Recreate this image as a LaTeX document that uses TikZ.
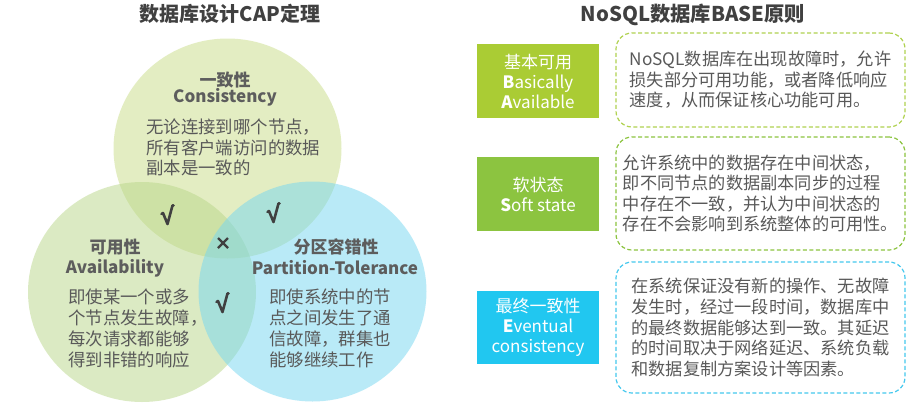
\documentclass[tikz,border=0pt]{standalone}
\usepackage{fontspec}
\setmainfont{Noto Sans CJK SC}
\newfontfamily\symfont{DejaVu Sans}
\usetikzlibrary{shapes.geometric}
\definecolor{ctop}{RGB}{201,221,135}
\definecolor{cleft}{RGB}{185,215,137}
\definecolor{cright}{RGB}{117,215,241}
\definecolor{headc}{RGB}{64,64,64}
\definecolor{bodyc}{RGB}{89,89,89}
\definecolor{boxa}{RGB}{170,204,52}
\definecolor{boxb}{RGB}{140,196,64}
\definecolor{boxc}{RGB}{33,199,240}
\definecolor{dasha}{RGB}{176,210,80}
\definecolor{dashb}{RGB}{140,196,64}
\definecolor{dashc}{RGB}{69,200,238}
\begin{document}
\begin{tikzpicture}[x=1pt,y=-1pt,
  venn/.style={ellipse, minimum width=228pt, minimum height=220pt, inner sep=0pt, draw=none, fill opacity=0.5},
  maintitle/.style={font=\fontsize{20}{22}\selectfont\bfseries, text=headc, inner sep=0pt},
  head/.style={font=\fontsize{17}{20}\selectfont\bfseries, text=headc!85!white, inner sep=0pt},
  body/.style={font=\fontsize{17.4}{20.7}\selectfont, text=bodyc, align=left, inner sep=0pt, anchor=north west},
  checkm/.style={inner sep=0pt, minimum size=1pt},
  checkstroke/.style={draw=headc, line width=2.6pt, line cap=round, line join=round},
  tag/.style={minimum width=122pt, minimum height=74pt, inner sep=0pt, text=white, align=center, font=\fontsize{17}{20}\selectfont},
  note/.style={rounded corners=16pt, dash pattern=on 4pt off 2.5pt, line width=1.2pt, minimum width=289pt, inner sep=0pt, align=left, text=bodyc, font=\fontsize{17.2}{20.6}\selectfont}
]
\useasboundingbox (0,0) rectangle (923,408);
\fill[white] (0,0) rectangle (923,408);

% Venn circles
\node[venn, fill=ctop] (ctopc) at (227.5,148.5) {};
\node[venn, fill=cleft] (cleftc) at (142,292) {};
\node[venn, fill=cright] (crightc) at (312.5,291.5) {};

% titles
\node[maintitle] (capt) at (230,14) {数据库设计CAP定理};
\node[maintitle, font=\fontsize{20.3}{22}\selectfont\bfseries] (baset) at (693,15) {NoSQL数据库BASE原则};

% top circle text
\node[head] (ch) at (225,80) {一致性};
\node[head] (che) at (225,97) {Consistency};
\node[body] (cb) at (146,118.5) {无论连接到哪个节点，\\所有客户端访问的数据\\副本是一致的};

% left circle text
\node[head] (ah) at (115,247) {可用性};
\node[head] (ahe) at (115,268) {Availability};
\node[body, font=\fontsize{17.4}{21}\selectfont] (ab) at (68,288.5) {即使某一个或多\\个节点发生故障，\\每次请求都能够\\得到非错的响应};

% right circle text
\node[head] (ph) at (336,247) {分区容错性};
\node[head] (phe) at (335,268) {Partition-Tolerance};
\node[body, font=\fontsize{17.4}{21}\selectfont] (pb) at (269,288.5) {即使系统中的节\\点之间发生了通\\信故障，群集也\\能够继续工作};

% check marks (drawn radical-like ticks)
\coordinate (m1) at (167,215);
\coordinate (m2) at (273,213);
\coordinate (m3) at (223,243);
\coordinate (m4) at (222,303);
\foreach \m in {m1,m2,m4}{
  \draw[checkstroke] ([shift={(-5.5,-1)}]\m) -- ([shift={(-4,-2)}]\m) -- ([shift={(0.5,9)}]\m) -- ([shift={(5.5,-9.5)}]\m) -- ([shift={(6.5,-9.5)}]\m);
}
\draw[checkstroke, line width=2.4pt, line cap=butt] ([shift={(-5,-5)}]m3) -- ([shift={(5,5)}]m3);
\draw[checkstroke, line width=2.4pt, line cap=butt] ([shift={(-5,5)}]m3) -- ([shift={(5,-5)}]m3);

% BASE tags
\node[tag, fill=boxa] (ba) at (538,81) {基本可用\\\textbf{B}asically\\\textbf{A}vailable};
\node[tag, fill=boxb] (bs) at (538,194) {软状态\\\textbf{S}oft state};
\node[tag, fill=boxc, minimum height=73pt] (be) at (538,327.5) {最终一致性\\\textbf{E}ventual\\consistency};

% notes
\node[note, draw=dasha, minimum height=94pt] (na) at (760.5,80) {NoSQL数据库在出现故障时，允许\\损失部分可用功能，或者降低响应\\速度，从而保证核心功能可用。};
\node[note, draw=dashb, minimum height=113pt] (ns) at (760.5,193.5) {允许系统中的数据存在中间状态，\\即不同节点的数据副本同步的过程\\中存在不一致，并认为中间状态的\\存在不会影响到系统整体的可用性。};
\node[note, draw=dashc, minimum height=131pt] (ne) at (760.5,327.5) {在系统保证没有新的操作、无故障\\发生时，经过一段时间，数据库中\\的最终数据能够达到一致。其延迟\\的时间取决于网络延迟、系统负载\\和数据复制方案设计等因素。};
\end{tikzpicture}
\end{document}
